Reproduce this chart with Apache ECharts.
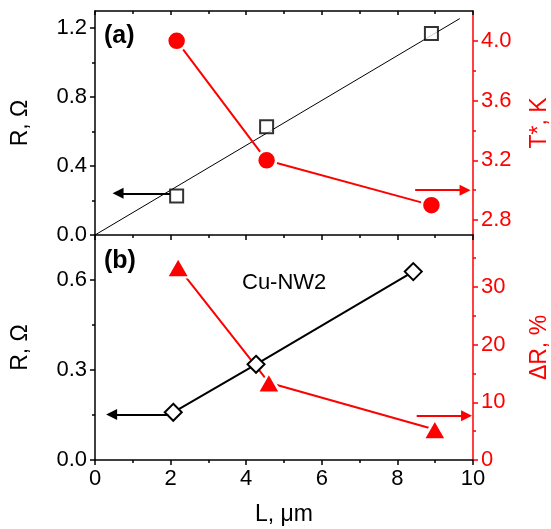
<!DOCTYPE html>
<html>
<head>
<meta charset="utf-8">
<script src="https://cdn.jsdelivr.net/npm/echarts@6/dist/echarts.min.js"></script>
<style>
html,body{margin:0;padding:0;background:#fff;}
#chart{width:551px;height:529px;}
</style>
</head>
<body>
<div id="chart"></div>
<script>
// ---- Data ----
// Panel (a)
const L_aR = [2.16, 4.54, 8.9];
const R_a = [0.226, 0.628, 1.169];
const L_aT = [2.16, 4.54, 8.9];
const T_a = [4.0, 3.2, 2.9];
const fitL = [0, 9.65];
const fitR = [0, 1.256];
// Panel (b)
const L_bR = [2.07, 4.26, 8.42];
const R_b = [0.159, 0.319, 0.628];
const L_bD = [2.2, 4.6, 8.99];
const dR_b = [33.4, 13.4, 5.3];
// Arrows [fromX, toX, y]
const arrowA_R = [1.98, 0.61, 0.242];
const arrowA_T = [8.47, 9.79, 3.0];
const arrowB_R = [1.94, 0.44, 0.152];
const arrowB_D = [8.51, 9.83, 7.65];
// Ticks
const xMajor = [0, 2, 4, 6, 8, 10];
const xLabels = ['0', '2', '4', '6', '8', '10'];
const aLeftMajor = [0, 0.4, 0.8, 1.2];
const aLeftMinor = [0.2, 0.6, 1.0];
const aRightMajor = [2.8, 3.2, 3.6, 4.0];
const aRightMinor = [3.0, 3.4, 3.8];
const bLeftMajor = [0, 0.3, 0.6];
const bLeftMinor = [0.15, 0.45];
const bRightMajor = [0, 10, 20, 30];
const bRightMinor = [5, 15, 25, 35];

const RED = '#ff0000';
const FONT = 'Liberation Sans, Arial, sans-serif';
const zip = (a, b) => a.map((v, i) => [v, b[i]]);

const chart = echarts.init(document.getElementById('chart'), null, {renderer: 'canvas'});

function yAxisDef(opts) {
  const color = opts.color || '#000';
  return {
    type: 'value', gridIndex: opts.grid, position: opts.pos,
    min: opts.min, max: opts.max,
    name: opts.name || '', nameLocation: 'middle', nameGap: opts.nameGap || 0,
    nameTextStyle: {fontFamily: FONT, fontSize: 23, color: color},
    axisLine: {show: !opts.minor, onZero: false, lineStyle: {color: color, width: 1.5}},
    axisTick: {show: true, inside: false, length: opts.minor ? 3 : 5, customValues: opts.ticks,
      lineStyle: {color: color, width: 1.5}},
    axisLabel: {show: !opts.minor, customValues: opts.minor ? undefined : opts.ticks, margin: 8,
      fontFamily: FONT, fontSize: 22, color: color,
      formatter: v => opts.fmt(v)},
    splitLine: {show: false},
    z: 5
  };
}

function xAxisDef(grid, pos, showLabel, inside) {
  return {
    type: 'value', gridIndex: grid, position: pos, min: 0, max: 10, interval: 2,
    name: showLabel ? 'L, \u03bcm' : '', nameLocation: 'middle', nameGap: 43,
    nameTextStyle: {fontFamily: FONT, fontSize: 23, color: '#000'},
    axisLine: {show: true, onZero: false, lineStyle: {color: '#000', width: 1.5}},
    axisTick: {show: true, inside: inside, length: inside ? 4 : 5, lineStyle: {color: '#000', width: 1.5}},
    minorTick: {show: true, splitNumber: 2, length: 3, lineStyle: {color: '#000', width: 1.5}},
    axisLabel: {show: showLabel, margin: 8, fontFamily: FONT, fontSize: 22, color: '#000',
      formatter: v => xLabels[xMajor.indexOf(v)] !== undefined ? xLabels[xMajor.indexOf(v)] : ''},
    splitLine: {show: false}, minorSplitLine: {show: false},
    z: 5
  };
}

function arrowSeries(arr, xi, yi, color) {
  return {
    type: 'lines', coordinateSystem: 'cartesian2d', xAxisIndex: xi, yAxisIndex: yi,
    symbol: ['none', 'triangle'], symbolSize: [9, 11],
    lineStyle: {color: color, width: 2.2, opacity: 1},
    data: [{coords: [[arr[0], arr[2]], [arr[1], arr[2]]]}],
    z: 4, silent: true
  };
}

const option = {
  animation: false,
  backgroundColor: '#fff',
  grid: [
    {left: 95, width: 378, top: 11, height: 224, outerBoundsMode: 'none', containLabel: false},
    {left: 95, width: 378, top: 235, height: 225, outerBoundsMode: 'none', containLabel: false}
  ],
  xAxis: [
    xAxisDef(0, 'bottom', false, false),
    xAxisDef(0, 'top', false, true),
    xAxisDef(1, 'bottom', true, false)
  ],
  yAxis: [
    yAxisDef({grid: 0, pos: 'left', min: 0, max: 1.3, ticks: aLeftMajor, name: 'R, \u03a9', nameGap: 63, fmt: v => v.toFixed(1)}),
    yAxisDef({grid: 0, pos: 'left', min: 0, max: 1.3, ticks: aLeftMinor, minor: true, fmt: v => ''}),
    yAxisDef({grid: 0, pos: 'right', min: 2.7, max: 4.2, ticks: aRightMajor, color: RED, name: 'T*, K', nameGap: 55, fmt: v => v.toFixed(1)}),
    yAxisDef({grid: 0, pos: 'right', min: 2.7, max: 4.2, ticks: aRightMinor, minor: true, color: RED, fmt: v => ''}),
    yAxisDef({grid: 1, pos: 'left', min: 0, max: 0.75, ticks: bLeftMajor, name: 'R, \u03a9', nameGap: 63, fmt: v => v.toFixed(1)}),
    yAxisDef({grid: 1, pos: 'left', min: 0, max: 0.75, ticks: bLeftMinor, minor: true, fmt: v => ''}),
    yAxisDef({grid: 1, pos: 'right', min: 0, max: 39, ticks: bRightMajor, color: RED, name: '\u0394R, %', nameGap: 55, fmt: v => String(v)}),
    yAxisDef({grid: 1, pos: 'right', min: 0, max: 39, ticks: bRightMinor, minor: true, color: RED, fmt: v => ''})
  ],
  series: [
    {type: 'line', xAxisIndex: 0, yAxisIndex: 0, data: zip(fitL, fitR), showSymbol: false, symbol: 'none',
      lineStyle: {color: '#000', width: 1}, z: 2, silent: true},
    {type: 'scatter', xAxisIndex: 0, yAxisIndex: 0, data: zip(L_aR, R_a), symbol: 'rect', symbolSize: 13,
      itemStyle: {color: '#fff', borderColor: '#000', borderWidth: 2}, z: 3, silent: true},
    {type: 'line', xAxisIndex: 0, yAxisIndex: 2, data: zip(L_aT, T_a), symbol: 'circle', symbolSize: 19,
      showSymbol: true,
      lineStyle: {color: RED, width: 2}, itemStyle: {color: RED, borderColor: '#fff', borderWidth: 2.5}, z: 3, silent: true},
    {type: 'line', xAxisIndex: 2, yAxisIndex: 4, data: zip(L_bR, R_b), symbol: 'diamond', symbolSize: 17,
      showSymbol: true,
      lineStyle: {color: '#000', width: 2}, itemStyle: {color: '#fff', borderColor: '#000', borderWidth: 2}, z: 3, silent: true},
    {type: 'line', xAxisIndex: 2, yAxisIndex: 6, data: zip(L_bD, dR_b), symbol: 'triangle', symbolSize: [23, 20],
      showSymbol: true,
      lineStyle: {color: RED, width: 2}, itemStyle: {color: RED, borderColor: '#fff', borderWidth: 2.5}, z: 3, silent: true},
    arrowSeries(arrowA_R, 0, 0, '#000'),
    arrowSeries(arrowA_T, 0, 2, RED),
    arrowSeries(arrowB_R, 2, 4, '#000'),
    arrowSeries(arrowB_D, 2, 6, RED)
  ],
  graphic: [
    {type: 'text', left: 104, top: 24, style: {text: '(a)', fontFamily: FONT, fontSize: 25, fontWeight: 'bold', fill: '#000'}, z: 10},
    {type: 'text', left: 104, top: 249, style: {text: '(b)', fontFamily: FONT, fontSize: 25, fontWeight: 'bold', fill: '#000'}, z: 10},
    {type: 'text', left: 242, top: 272, style: {text: 'Cu-NW2', fontFamily: FONT, fontSize: 22, fill: '#000'}, z: 10}
  ]
};
chart.setOption(option);
</script>
</body>
</html>
